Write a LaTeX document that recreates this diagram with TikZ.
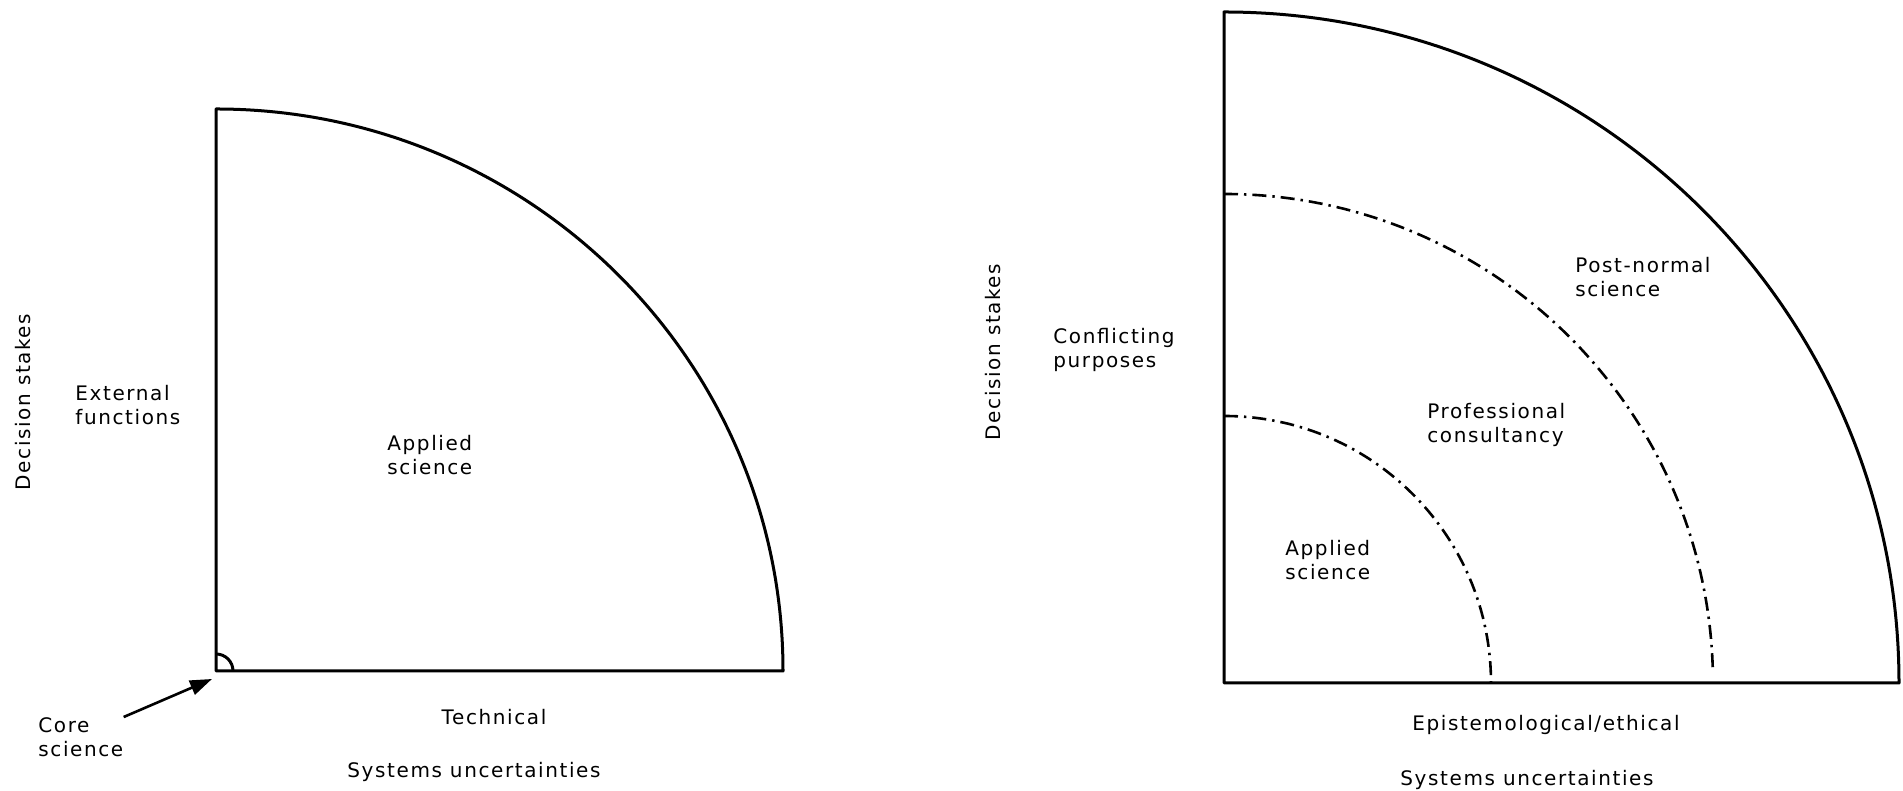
\documentclass[tikz,border=0pt]{standalone}
\usepackage{fontspec}
\setmainfont[LetterSpace=8]{DejaVu Sans}
\usetikzlibrary{arrows.meta}
\begin{document}
\begin{tikzpicture}[x=0.5pt,y=0.5pt,
  lbl/.style={font=\fontsize{10}{12}\selectfont, inner sep=0pt},
  lbll/.style={lbl, align=left, anchor=west},
  axislbl/.style={lbl, rotate=90},
  outline/.style={line width=1.5pt, line join=round},
  zone/.style={line width=1.3pt, dash pattern=on 7pt off 3pt on 1.2pt off 3pt},
  pointer/.style={line width=1.3pt, -{Triangle[length=11pt,width=7.5pt]}}]
\useasboundingbox (0,0) rectangle (1903,791);

% ---- left panel: normal science ----
\coordinate (L0) at (216,120);
\draw[outline] (L0) -- (216,682) arc[start angle=90, end angle=0, x radius=283.5pt, y radius=281pt] -- cycle;
\draw[outline] (233,120) arc[start angle=0, end angle=90, radius=8.5pt];

\node[axislbl] (dsL) at (23,389) {Decision stakes};
\node[lbll] (ext) at (75,386) {External\\functions};
\node[lbll] (appL) at (387,336) {Applied\\science};
\node[lbl] (tech) at (494,74) {Technical};
\node[lbl] (suL) at (474,19) {Systems uncertainties};
\node[lbll] (core) at (38,54) {Core\\science};
\coordinate (tipL) at (212,112);
\draw[pointer] (core.north east) -- (tipL);

% ---- right panel: three kinds of science ----
\coordinate (R0) at (1224,108);
\draw[outline] (R0) -- (1224,779) arc[start angle=90, end angle=0, x radius=337.5pt, y radius=335.5pt] -- cycle;
\draw[zone] (1224,375) arc[start angle=90, end angle=0, radius=133.5pt];
\draw[zone] (1224,597) arc[start angle=90, end angle=1.6, radius=244.5pt];

\node[axislbl] (dsR) at (993,439) {Decision stakes};
\node[lbll] (conf) at (1053,441) {Conflicting\\purposes};
\node[lbll] (post) at (1575,514) {Post-normal\\science};
\node[lbll] (prof) at (1427,366) {Professional\\consultancy};
\node[lbll] (appR) at (1285,231) {Applied\\science};
\node[lbl] (epi) at (1546,66) {Epistemological/ethical};
\node[lbl] (suR) at (1527,11) {Systems uncertainties};
\end{tikzpicture}
\end{document}
